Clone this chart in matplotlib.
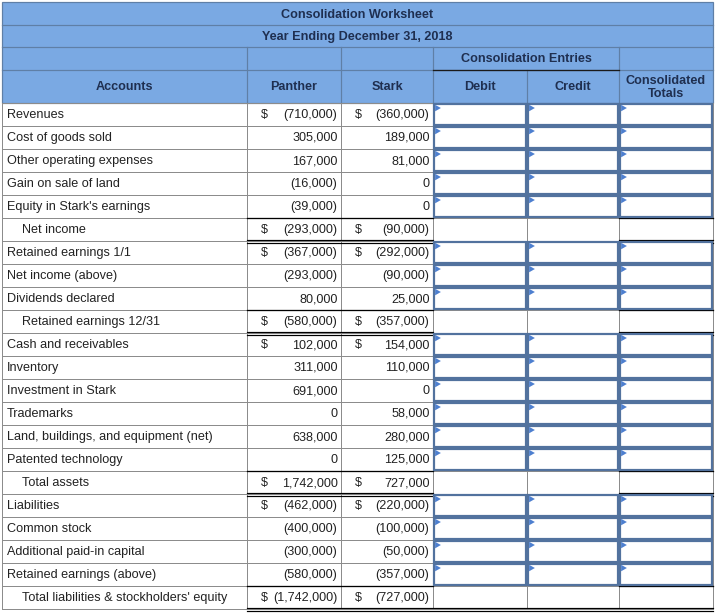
import matplotlib.pyplot as plt
import matplotlib.patches as patches

plt.rcParams['font.family'] = ['Liberation Sans', 'DejaVu Sans']

# worksheet data
accounts = ['Revenues', 'Cost of goods sold', 'Other operating expenses', 'Gain on sale of land',
            "Equity in Stark's earnings", 'Net income', 'Retained earnings 1/1', 'Net income (above)',
            'Dividends declared', 'Retained earnings 12/31', 'Cash and receivables', 'Inventory',
            'Investment in Stark', 'Trademarks', 'Land, buildings, and equipment (net)',
            'Patented technology', 'Total assets', 'Liabilities', 'Common stock',
            'Additional paid-in capital', 'Retained earnings (above)',
            "Total liabilities & stockholders' equity"]
panther = [-710000, 305000, 167000, -16000, -39000, -293000, -367000, -293000, 80000, -580000,
           102000, 311000, 691000, 0, 638000, 0, 1742000, -462000, -400000, -300000, -580000,
           -1742000]
stark = [-360000, 189000, 81000, 0, 0, -90000, -292000, -90000, 25000, -357000,
         154000, 110000, 0, 58000, 280000, 125000, 727000, -220000, -100000, -50000, -357000,
         -727000]
subtotal_rows = ['Net income', 'Retained earnings 12/31', 'Total assets',
                 "Total liabilities & stockholders' equity"]
dollar_rows = ['Revenues', 'Net income', 'Retained earnings 1/1', 'Retained earnings 12/31',
               'Cash and receivables', 'Total assets', 'Liabilities',
               "Total liabilities & stockholders' equity"]
title = 'Consolidation Worksheet'
subtitle = 'Year Ending December 31, 2018'
col_heads = ['Accounts', 'Panther', 'Stark', 'Debit', 'Credit', 'Consolidated\nTotals']

# layout (pixels)
col_x = [2, 247, 341, 433, 527, 619, 713]
head_y = [2, 25, 47, 70, 103]
row_h = 23
top = head_y[-1]

HEAD_BG = '#7aa9e3'
HEAD_TXT = '#1f2f50'
HEAD_LINE = '#5f7fa6'
GRID = '#8c8c8c'
BOX = '#52729e'
FLAG = '#4d7fcf'
FS = 9.1


def px(w):
    return w * 0.72


def fmt(v):
    if v < 0:
        return '({:,})'.format(-v)
    return '{:,}'.format(v)


fig = plt.figure(figsize=(7.18, 6.13), dpi=100)
ax = fig.add_axes([0, 0, 1, 1])
ax.set_xlim(0, 718)
ax.set_ylim(613, 0)
ax.axis('off')

# header block
ax.add_patch(patches.Rectangle((col_x[0], head_y[0]), col_x[-1] - col_x[0], head_y[-1] - head_y[0],
                               facecolor=HEAD_BG, edgecolor=HEAD_LINE, linewidth=px(1.2)))
for y in head_y[1:4]:
    ax.plot([col_x[0], col_x[-1]], [y, y], color=HEAD_LINE, lw=px(1.2))
for x in col_x[1:-1]:
    y0 = head_y[3] if x == col_x[4] else head_y[2]
    ax.plot([x, x], [y0, head_y[-1]], color=HEAD_LINE, lw=px(1.2))
ax.plot([col_x[3], col_x[5]], [head_y[3], head_y[3]], color='#1a1a1a', lw=px(1.3))

mid = (col_x[0] + col_x[-1]) / 2
ax.text(mid, (head_y[0] + head_y[1]) / 2 + 1, title, ha='center', va='center',
        fontsize=FS, fontweight='bold', color=HEAD_TXT)
ax.text(mid, (head_y[1] + head_y[2]) / 2 + 1, subtitle, ha='center', va='center',
        fontsize=FS, fontweight='bold', color=HEAD_TXT)
ax.text((col_x[3] + col_x[5]) / 2, (head_y[2] + head_y[3]) / 2 + 1, 'Consolidation Entries',
        ha='center', va='center', fontsize=FS, fontweight='bold', color=HEAD_TXT)
for i, h in enumerate(col_heads):
    ax.text((col_x[i] + col_x[i + 1]) / 2, (head_y[3] + head_y[4]) / 2 + 1, h, ha='center',
            va='center', fontsize=FS, fontweight='bold', color=HEAD_TXT, linespacing=1.05)

# body grid
n = len(accounts)
bottom = top + n * row_h
for x in col_x:
    ax.plot([x, x], [top, bottom], color=GRID, lw=px(1))
for i in range(n + 1):
    y = top + i * row_h
    ax.plot([col_x[0], col_x[-1]], [y, y], color=GRID, lw=px(1))

for i, name in enumerate(accounts):
    y0 = top + i * row_h
    yc = y0 + row_h / 2 + 0.5
    sub = name in subtotal_rows
    ax.text(col_x[0] + (20 if sub else 5), yc, name, ha='left', va='center', fontsize=FS,
            color='#222222')
    for j, vals in ((1, panther), (2, stark)):
        ax.text(col_x[j + 1] - 3.5, yc, fmt(vals[i]), ha='right', va='center', fontsize=FS,
                color='#222222')
        if name in dollar_rows:
            ax.text(col_x[j] + 14, yc, '$', ha='left', va='center', fontsize=FS, color='#222222')
    if sub:
        last = i == n - 1
        spans = [(col_x[1], col_x[3]), (col_x[5], col_x[6])]
        dbl = [(col_x[1], col_x[6])] if last else spans
        for a, b in spans:
            ax.plot([a, b], [y0, y0], color='black', lw=px(1.3))
        for a, b in dbl:
            ax.plot([a, b], [y0 + row_h - 1.5, y0 + row_h - 1.5], color='black', lw=px(1.2))
            ax.plot([a, b], [y0 + row_h + 1.5, y0 + row_h + 1.5], color='black', lw=px(1.2))
    else:
        # answer boxes, edge to edge
        for j in (3, 4, 5):
            x0 = col_x[j] + 1.1
            ax.add_patch(patches.Rectangle((x0, y0 + 1.1), col_x[j + 1] - col_x[j] - 2.2,
                                           row_h - 2.2, facecolor='white', edgecolor=BOX,
                                           linewidth=px(2.2), zorder=3))
            ax.add_patch(patches.Polygon([(x0 + 1, y0 + 1.8), (x0 + 1, y0 + 8.3), (x0 + 6.8, y0 + 5)],
                                         closed=True, facecolor=FLAG, edgecolor='none', zorder=4))

fig.savefig('out.png', dpi=100, facecolor='white')
